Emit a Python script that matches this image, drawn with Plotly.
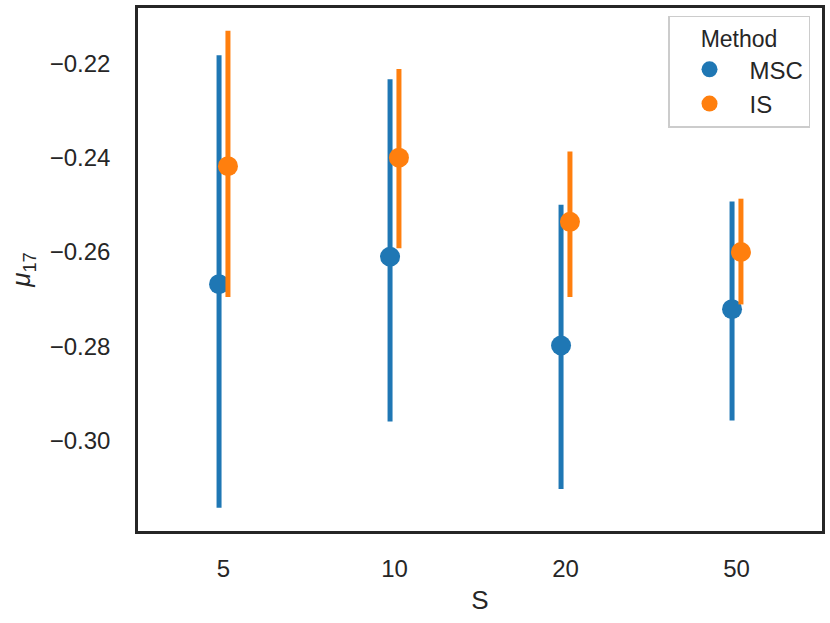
import plotly.graph_objects as go

# values
S_values = ["5", "10", "20", "50"]
methods = ["MSC", "IS"]
colors = ["#1f77b4", "#ff7f0e"]

msc_mean = [-0.2668, -0.2610, -0.2798, -0.2721]
msc_low = [-0.3142, -0.2959, -0.3102, -0.2957]
msc_high = [-0.2183, -0.2234, -0.2500, -0.2493]

is_mean = [-0.2418, -0.2400, -0.2536, -0.2600]
is_low = [-0.2695, -0.2592, -0.2695, -0.2711]
is_high = [-0.2131, -0.2212, -0.2387, -0.2487]

series = [(msc_mean, msc_low, msc_high), (is_mean, is_low, is_high)]

ink = "#262626"
font = "Liberation Sans, Arial, sans-serif"

fig = go.Figure()
for name, col, (mean, low, high) in zip(methods, colors, series):
    fig.add_trace(go.Scatter(
        x=S_values, y=mean, name=name, mode="markers",
        marker=dict(color=col, size=20),
        error_y=dict(type="data", symmetric=False,
                     array=[h - m for h, m in zip(high, mean)],
                     arrayminus=[m - l for m, l in zip(mean, low)],
                     color=col, thickness=5, width=0),
    ))

fig.update_layout(
    width=830, height=623,
    margin=dict(l=138, r=5, t=5, b=92),
    plot_bgcolor="white", paper_bgcolor="white",
    font=dict(family=font, color=ink, size=24),
    scattermode="group", scattergap=0.896,
    showlegend=True,
    legend=dict(
        title=dict(text="Method", side="top center", font=dict(size=23)),
        x=0.9825, xanchor="right", y=0.985, yanchor="top",
        bordercolor="#cccccc", borderwidth=1.5, bgcolor="white",
        font=dict(size=24), itemwidth=70,
    ),
)
fig.update_xaxes(
    title=dict(text="S", font=dict(size=26), standoff=11),
    range=[-0.5, 3.5], showgrid=False, zeroline=False,
    showline=True, linecolor=ink, linewidth=2.5, mirror=True,
    ticks="", ticklabelstandoff=14,
)
fig.update_yaxes(
    title=dict(text="<i>μ</i><sub>17</sub>", font=dict(size=26), standoff=12),
    range=[-0.3191, -0.2083], dtick=0.02, tickformat=".2f",
    showgrid=False, zeroline=False,
    showline=True, linecolor=ink, linewidth=2.5, mirror=True,
    ticks="", ticklabelstandoff=20,
)

# the page body has a default 8px margin, drop it so the figure fills the window
fig.write_html("out.html", config={"displayModeBar": False},
               post_script="document.body.style.margin='0px';")
